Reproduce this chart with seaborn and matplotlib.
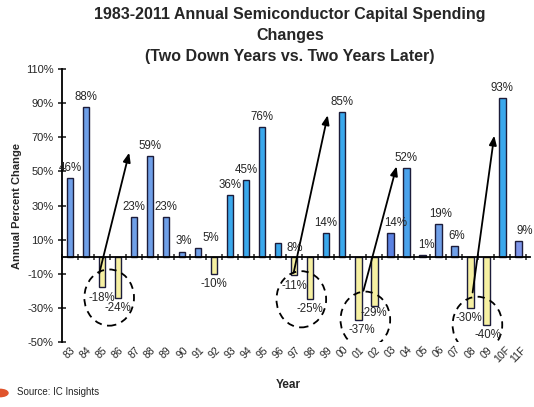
import matplotlib
matplotlib.use("Agg")
import matplotlib.pyplot as plt
from matplotlib.patches import Ellipse
import seaborn as sns
import pandas as pd

# annual capex change, %
years = ["83", "84", "85", "86", "87", "88", "89", "90", "91", "92",
         "93", "94", "95", "96", "97", "98", "99", "00",
         "01", "02", "03", "04", "05", "06", "07", "08", "09", "10F", "11F"]
changes = [46, 88, -18, -24, 23, 59, 23, 3, 5, -10,
           36, 45, 76, 8, -11, -25, 14, 85,
           -37, -29, 14, 52, 1, 19, 6, -30, -40, 93, 9]
# colour group of each bar as drawn in the original
shade = ["b", "b", "y", "y", "b", "b", "b", "b", "b", "y",
         "c", "c", "c", "c", "y", "y", "c", "c",
         "y", "y", "d", "m", "b", "b", "b", "y", "y", "c", "v"]

shade_colors = {"b": "#6f9fe8", "c": "#3aa8ec", "y": "#f6f0a2",
                "d": "#5b82e2", "m": "#4aa2ec", "v": "#7e96ea"}

# arrows: from the first down year up to two years later (annotation geometry)
arrow_from = [(1.83, -9.8), (13.97, -9.5), (18.33, -20.0), (25.15, -21.0)]
arrow_to = [(3.7, 61), (16.1, 83), (20.4, 53), (26.5, 71)]

# label nudges in points (x, y)
label_shift = {"46": (1, 0), "90": (1.5, 0), "91": (9, 0), "96": (12, -11),
               "01": (2.5, 0), "02": (0, 2), "03": (4, 0), "05": (3, 0),
               "06": (2, 0), "07": (2, 0), "08": (-1, 0), "09": (1.5, 0),
               "11F": (5, 0)}

sns.set_style("white")
plt.rcParams['font.family'] = ['Liberation Sans', 'DejaVu Sans']

df = pd.DataFrame({"year": years, "change": changes})
pal = {y: shade_colors[s] for y, s in zip(years, shade)}

fig = plt.figure(figsize=(5.34, 4.07), dpi=100)
ax = fig.add_axes([0.116, 0.160, 0.877, 0.670])
sns.barplot(data=df, x="year", y="change", hue="year", palette=pal,
            legend=False, width=0.42, saturation=1,
            edgecolor="#1c1c3a", linewidth=1.0, ax=ax)

n = len(years)
ax.set_xlim(-0.5, n - 0.25)
ax.set_ylim(-50, 110)
yt = list(range(-50, 111, 20))
ax.set_yticks(yt, labels=[f"{t}%" for t in yt], fontsize=8)
ax.tick_params(axis="y", direction="inout", length=6, width=1.2, pad=3, left=True)

for s in ["top", "right"]:
    ax.spines[s].set_visible(False)
ax.spines["left"].set_color("black")
ax.spines["left"].set_linewidth(1.3)
ax.spines["bottom"].set_position(("data", 0))
ax.spines["bottom"].set_color("black")
ax.spines["bottom"].set_linewidth(1.3)
ax.set_xticks([i + 0.5 for i in range(-1, n)], labels=[])
ax.tick_params(axis="x", direction="inout", length=5, width=1.1, bottom=True)
ax.set_xlabel("")
ax.set_ylabel("Annual Percent Change", fontweight="bold", fontsize=8, labelpad=3)

sec = ax.secondary_xaxis("bottom")
sec.set_xticks(range(n), labels=years, rotation=45, fontsize=7.5, ha="center")
sec.tick_params(length=0, pad=2)
sec.spines["bottom"].set_visible(False)

for i, (y, v) in enumerate(zip(years, changes)):
    dx, dy = label_shift.get(y, (0, 0))
    ax.annotate(f"{v}%", xy=(i, v), xytext=(dx, (3 if v > 0 else -3) + dy),
                textcoords="offset points", ha="center",
                va="bottom" if v > 0 else "top", fontsize=8.3)

# dashed circles round each pair of consecutive down years
for i in range(n - 1):
    if changes[i] < 0 and changes[i + 1] < 0:
        ax.add_patch(Ellipse((i + 0.45, min(changes[i], changes[i + 1])),
                             width=3.1, height=33, fill=False, ec="black",
                             lw=1.3, ls=(0, (4, 3))))

for a, b in zip(arrow_from, arrow_to):
    ax.annotate("", xy=b, xytext=a,
                arrowprops=dict(arrowstyle="-|>,head_length=0.55,head_width=0.22",
                                color="black", lw=1.3, shrinkA=0, shrinkB=0))

fig.text(0.543, 0.984,
         "1983-2011 Annual Semiconductor Capital Spending\nChanges\n(Two Down Years vs. Two Years Later)",
         ha="center", va="top", fontsize=11.5, fontweight="bold", linespacing=1.5)
fig.text(288 / 534, 1 - 385 / 407, "Year", ha="center", va="center",
         fontsize=8.5, fontweight="bold")
fig.text(17 / 534, 1 - 392 / 407, "Source: IC Insights", ha="left", va="center",
         fontsize=7)
fig.patches.append(Ellipse((0.0, 1 - 393 / 407), width=0.03, height=0.018,
                           transform=fig.transFigure, color="#e0542c"))

fig.savefig("out.png", dpi=100)
